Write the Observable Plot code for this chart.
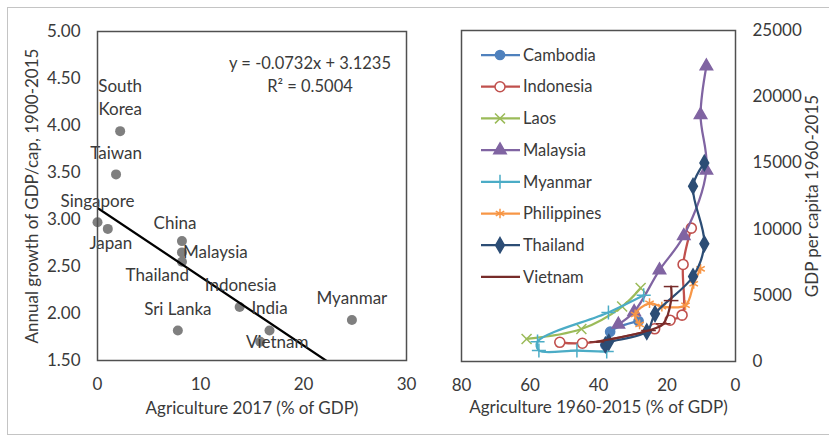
<!DOCTYPE html>
<html><head><meta charset="utf-8">
<script src="https://cdn.jsdelivr.net/npm/d3@7"></script>
<script src="https://cdn.jsdelivr.net/npm/@observablehq/plot@0.6"></script>
<style>
body{margin:0;background:#fff;font-family:Lato,"Open Sans",sans-serif;}
#wrap{position:relative;width:829px;height:437px;overflow:hidden;background:#fff}
#border{position:absolute;left:7px;top:7px;width:840px;height:428px;border:1px solid #c4c4c4;box-sizing:border-box}
#left{position:absolute;left:0;top:0}
#right{position:absolute;left:420px;top:0}
#legend{position:absolute;left:470px;top:40px}
svg{overflow:visible}
</style></head><body>
<div id="wrap"><div id="border"></div><div id="left"></div><div id="right"></div><div id="legend"></div></div>
<script>
// ---------- Left panel data ----------
const countries = ["South Korea","Taiwan","Singapore","Japan","China","Malaysia","Thailand","Indonesia","Sri Lanka","India","Vietnam","Myanmar"];
const agri2017  = [2.2, 1.8, 0.0, 1.0, 8.2, 8.2, 8.2, 13.8, 7.8, 16.7, 15.8, 24.7];
const growth    = [3.94, 3.48, 2.97, 2.90, 2.77, 2.65, 2.55, 2.07, 1.82, 1.82, 1.70, 1.93];
const labelTexts = ["South\nKorea","Taiwan","Singapore","Japan","China","Malaysia","Thailand","Indonesia","Sri Lanka","India","Vietnam","Myanmar"];
const regSlope = -0.0732, regIntercept = 3.1235, rSquared = 0.5004;
const leftXTicks = [0, 10, 20, 30];
const leftYTicks = [1.5, 2.0, 2.5, 3.0, 3.5, 4.0, 4.5, 5.0];

// ---------- Right panel data: [agriculture % of GDP, GDP per capita] ----------
const seriesNames = ["Cambodia","Indonesia","Laos","Malaysia","Myanmar","Philippines","Thailand","Vietnam"];
const cambodia    = [[38.0,1250],[36.6,2250],[28.3,3050]];
const indonesia   = [[51.3,1450],[44.7,1380],[23.6,2470],[19.1,3120],[15.6,3500],[15.3,7330],[12.9,10070]];
const laos        = [[61.0,1700],[45.0,2450],[33.1,4150],[27.7,5550]];
const malaysia    = [[34.2,2800],[29.6,3750],[22.2,6900],[15.1,9490],[8.5,14430],[10.2,18630],[8.5,22300]];
const myanmar     = [[37.6,750],[46.3,830],[57.4,830],[57.8,1500],[37.1,3700],[26.8,5000]];
const philippines = [[28.0,2800],[29.3,3550],[25.1,4400],[21.5,4150],[14.6,4250],[12.2,5870],[10.2,7000]];
const thailand    = [[38.0,1250],[37.0,1450],[25.9,2250],[23.5,3600],[12.4,6420],[9.1,8890],[12.4,13240],[9.1,15000]];
const vietnam     = [[40.5,1480],[25.4,2340],[21.1,2850],[18.8,4600],[18.8,5660]];
const rightXTicks = [80, 60, 40, 20, 0];
const rightYTicks = [0, 5000, 10000, 15000, 20000, 25000];

// ---------- styles ----------
const seriesColors = ["#4F81BD","#C0504D","#9BBB59","#8064A2","#4BACC6","#F79646","#2C4D75","#772C2A"];
const dash = {draw(ctx, size){ const w = Math.sqrt(size) * 0.9; ctx.moveTo(-w, 0); ctx.lineTo(w, 0); }};
const seriesSymbols = ["circle","circle","times","triangle","plus","asterisk","diamond", dash];
const seriesFill = ["color","#fff","none","color","none","none","color","none"];
const labelLayout = {
  "South Korea": {dx:0, dy:-35, anchor:"middle"},
  "Taiwan": {dx:0, dy:-23, anchor:"middle"},
  "Singapore": {dx:0, dy:-23, anchor:"middle"},
  "Japan": {dx:3, dy:13, anchor:"middle"},
  "China": {dx:-7, dy:-19, anchor:"middle"},
  "Malaysia": {dx:1, dy:-2, anchor:"start"},
  "Thailand": {dx:7, dy:12, anchor:"end"},
  "Indonesia": {dx:1, dy:-23, anchor:"middle"},
  "Sri Lanka": {dx:0, dy:-23, anchor:"middle"},
  "India": {dx:0, dy:-24, anchor:"middle"},
  "Vietnam": {dx:17, dy:-1, anchor:"middle"},
  "Myanmar": {dx:0, dy:-23, anchor:"middle"}
};
const textColor = "#3a3a3a";
const font = "Lato, 'Open Sans', sans-serif";
const fs = 17;

// ---------- Left plot ----------
const pts = countries.map((c, i) => ({country: c, label: labelTexts[i], x: agri2017[i], y: growth[i]}));
const regLine = [leftXTicks[0], leftXTicks[leftXTicks.length - 1]].map(x => ({x, y: regSlope * x + regIntercept}));

const left = Plot.plot({
  width: 420, height: 430,
  marginLeft: 97, marginRight: 14, marginTop: 31, marginBottom: 70,
  style: {fontFamily: font, fontSize: fs + "px", color: textColor, background: "transparent"},
  x: {domain: [0, 30], ticks: leftXTicks},
  y: {domain: [1.5, 5], ticks: leftYTicks, tickFormat: d3.format(".2f")},
  marks: [
    Plot.axisX({ticks: leftXTicks, tickSize: 0, tickPadding: 17, label: null, fontSize: fs}),
    Plot.axisY({ticks: leftYTicks, tickSize: 0, tickPadding: 17, label: null, tickFormat: d3.format(".2f"), fontSize: fs}),
    Plot.dot(pts, {x: "x", y: "y", r: 5, fill: "#7f7f7f", stroke: "none"}),
    Plot.line(regLine, {x: "x", y: "y", stroke: "#000", strokeWidth: 2.25, clip: true}),
    ...pts.map(p => {
      const L = labelLayout[p.country];
      return Plot.text([p], {x: "x", y: "y", text: "label", dx: L.dx, dy: L.dy, textAnchor: L.anchor, lineHeight: 1.35, fill: textColor, fontSize: fs});
    }),
    Plot.text([`y = ${regSlope}x + ${regIntercept}`], {frameAnchor: "top", dx: 58, dy: 26, fill: textColor, fontSize: 16.5}),
    Plot.text([`R² = ${rSquared.toFixed(4)}`], {frameAnchor: "top", dx: 58, dy: 49, fill: textColor, fontSize: 16.5}),
    Plot.frame({stroke: "#505050", strokeWidth: 1.5}),
    Plot.text(["Agriculture 2017 (% of GDP)"], {frameAnchor: "bottom", dy: 53, fill: textColor, fontSize: fs}),
    Plot.text(["Annual growth of GDP/cap, 1900-2015"], {frameAnchor: "left", textAnchor: "middle", dx: -65, rotate: -90, fill: textColor, fontSize: fs})
  ]
});
document.getElementById("left").append(left);

// ---------- Right plot ----------
const seriesData = [cambodia, indonesia, laos, malaysia, myanmar, philippines, thailand, vietnam];
const rows = seriesNames.map((name, i) => seriesData[i].map(([a, g]) => ({country: name, agri: a, gdp: g})));

const right = Plot.plot({
  width: 409, height: 430,
  marginLeft: 41, marginRight: 94, marginTop: 30, marginBottom: 69,
  style: {fontFamily: font, fontSize: fs + "px", color: textColor, background: "transparent"},
  x: {domain: [80, 0], ticks: rightXTicks},
  y: {domain: [0, 25000], ticks: rightYTicks},
  marks: [
    Plot.axisX({ticks: rightXTicks, tickSize: 0, tickPadding: 17, label: null, fontSize: fs}),
    Plot.axisY({anchor: "right", ticks: rightYTicks, tickSize: 0, tickPadding: 17, label: null, tickFormat: d3.format("d"), fontSize: fs}),
    ...rows.flatMap((r, i) => [
      Plot.line(r, {x: "agri", y: "gdp", stroke: seriesColors[i], strokeWidth: 2.25, curve: "catmull-rom"}),
      Plot.dot(r, {x: "agri", y: "gdp", symbol: seriesSymbols[i], r: i === 1 ? 5 : 4.6,
        fill: seriesFill[i] === "color" ? seriesColors[i] : seriesFill[i],
        stroke: seriesColors[i], strokeWidth: i === 1 ? 1.6 : 1.5})
    ]),
    Plot.frame({stroke: "#505050", strokeWidth: 1.5}),
    Plot.text(["Agriculture 1960-2015 (% of GDP)"], {frameAnchor: "bottom", dy: 51, fill: textColor, fontSize: fs}),
    Plot.text(["GDP per capita 1960-2015"], {frameAnchor: "right", textAnchor: "middle", dx: 77, rotate: -90, fill: textColor, fontSize: fs})
  ]
});
document.getElementById("right").append(right);

// ---------- Legend ----------
const lg = d3.select("#legend").append("svg").attr("width", 160).attr("height", 260)
  .style("font-family", font).style("font-size", "16.5px");
const symMap = {circle: d3.symbolCircle, times: d3.symbolTimes, triangle: d3.symbolTriangle, plus: d3.symbolPlus, asterisk: d3.symbolAsterisk, diamond: d3.symbolDiamond};
seriesNames.forEach((name, i) => {
  const y = 15 + i * 31.7;
  const g = lg.append("g").attr("transform", `translate(0,${y})`);
  g.append("line").attr("x1", 11).attr("x2", 50).attr("y1", 0).attr("y2", 0)
    .attr("stroke", seriesColors[i]).attr("stroke-width", 2.25);
  const s = seriesSymbols[i];
  const type = typeof s === "string" ? symMap[s] : s;
  const r = i === 1 ? 5 : 4.6;
  g.append("path").attr("transform", "translate(30,0)")
    .attr("d", d3.symbol(type, Math.PI * r * r)())
    .attr("fill", seriesFill[i] === "color" ? seriesColors[i] : seriesFill[i])
    .attr("stroke", seriesColors[i]).attr("stroke-width", 1.5);
  g.append("text").attr("x", 53).attr("y", 0).attr("dy", "0.35em").attr("fill", textColor).text(name);
});
</script>
</body></html>
